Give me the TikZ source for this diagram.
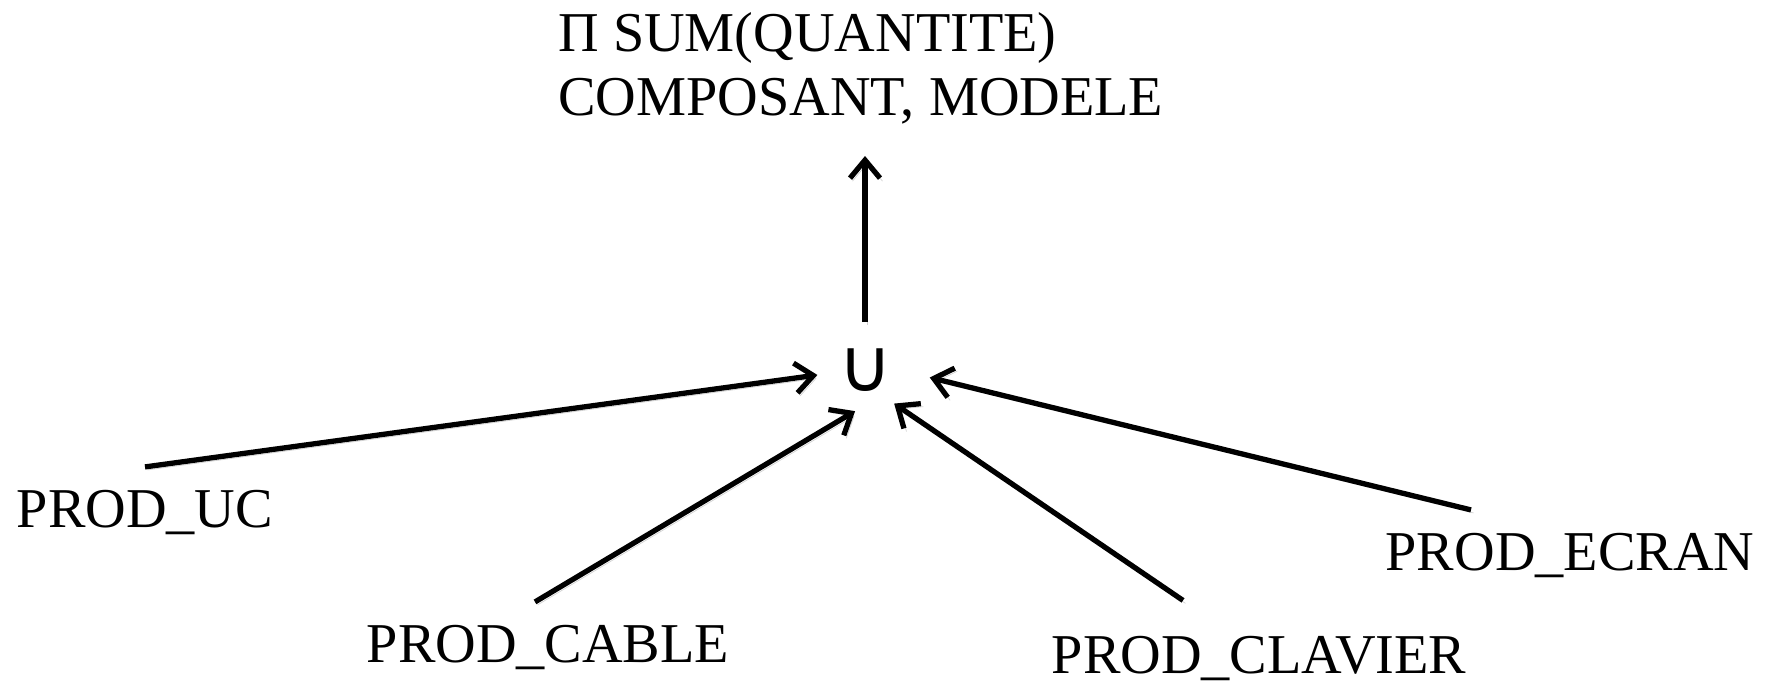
\documentclass[tikz,border=0pt]{standalone}
\usepackage{fontspec}
\setmainfont{Liberation Serif}
\newfontfamily\opfont{DejaVu Sans}
\usetikzlibrary{arrows.meta, positioning}

\begin{document}
\begin{tikzpicture}[
    relnode/.style={font=\fontsize{32}{36}\selectfont, inner xsep=0pt, inner ysep=0.45cm},
    opnode/.style={circle, minimum size=1.9cm, inner sep=0pt, font=\opfont\fontsize{42}{48}\selectfont},
    flow/.style={-{Straight Barb[length=0.36cm,width=0.6cm]}, line width=3pt,
        preaction={draw=black!18, transform canvas={shift={(0.05,-0.06)}}}}
]
\useasboundingbox (0,0) rectangle (35.48,-13.68);

% Union operator
\node[opnode] (union) at (17.3,-7.4) {∪};

% Projection on top
\node[relnode, align=left, anchor=south west, inner ysep=0.64cm] (proj) at (11.16,-3.12) {Π SUM(QUANTITE)\\COMPOSANT, MODELE};

% Input relations
\node[relnode, anchor=base] (uc) at (2.9,-10.54) {PROD\_UC};
\node[relnode, anchor=base] (cable) at (10.96,-13.24) {PROD\_CABLE};
\node[relnode, anchor=base] (clavier) at (25.18,-13.46) {PROD\_CLAVIER};
\node[relnode, anchor=base] (ecran) at (31.4,-11.4) {PROD\_ECRAN};

% Edges
\draw[flow] (union.north) -- (union.north |- proj.south);
\draw[flow] (uc.north) -- (union.186);
\draw[flow, shorten >=-0.15cm] ([xshift=-0.26cm]cable.north) -- (union.250);
\draw[flow, shorten >=-0.07cm] ([xshift=-1.52cm,yshift=0.25cm]clavier.north) -- (union.312);
\draw[flow, shorten >=0.35cm] ([xshift=-1.98cm]ecran.north) -- (union.356);

\end{tikzpicture}
\end{document}
